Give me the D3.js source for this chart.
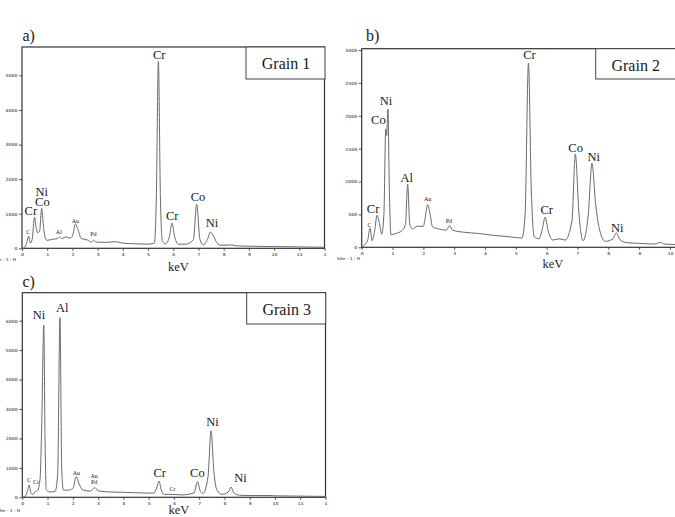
<!DOCTYPE html>
<html>
<head>
<meta charset="utf-8">
<title>EDS spectra - Grain 1, 2, 3</title>
<script src="https://d3js.org/d3.v7.min.js"></script>
<style>
  body { margin: 0; background: #fff; }
  svg { display: block; background: #fff; }
  .lbl { font-family: "Liberation Serif", "Times New Roman", serif; fill: #1a1a1a; }
  .tick text { font-family: "DejaVu Sans", sans-serif; font-weight: bold; fill: #777; }
  .tick line { stroke: #555; }
</style>
</head>
<body>
<div id="chart"></div>
<script>
// spectra, [keV, counts]
var grain1 = [[0,0],[0.1,20],[0.18,150],[0.27,350],[0.33,150],[0.4,250],[0.5,900],[0.56,600],[0.62,450],[0.7,500],
  [0.78,1150],[0.85,650],[0.92,300],[1.0,230],[1.2,260],[1.4,280],[1.49,330],[1.58,280],[1.75,330],[1.9,290],
  [2.0,350],[2.12,700],[2.22,550],[2.35,280],[2.6,240],[2.75,180],[2.84,230],[2.95,180],[3.3,170],[3.7,190],
  [4.0,150],[4.5,130],[5.0,120],[5.25,150],[5.33,1500],[5.41,5400],[5.49,1500],[5.57,200],[5.7,130],[5.85,350],
  [5.95,730],[6.05,350],[6.2,120],[6.5,120],[6.8,250],[6.93,1270],[7.06,250],[7.2,100],[7.38,300],[7.47,470],
  [7.6,350],[7.7,200],[7.85,90],[8.2,90],[8.3,100],[8.5,70],[9,60],[10,50],[11,40],[12,30]];

var grain2 = [[0,0],[0.1,40],[0.2,120],[0.27,290],[0.34,100],[0.42,250],[0.5,490],[0.57,380],[0.65,200],[0.72,500],
  [0.78,1800],[0.81,1700],[0.85,2100],[0.9,800],[0.95,190],[1.1,210],[1.3,250],[1.42,350],[1.49,960],[1.56,350],
  [1.65,280],[1.8,320],[2.0,320],[2.06,450],[2.14,650],[2.22,500],[2.3,310],[2.5,280],[2.75,260],[2.85,330],
  [2.95,260],[3.3,230],[3.8,210],[4.3,180],[4.8,160],[5.2,140],[5.3,500],[5.41,2800],[5.5,900],[5.6,160],
  [5.75,130],[5.87,300],[5.95,460],[6.05,250],[6.2,110],[6.4,130],[6.6,110],[6.82,400],[6.93,1420],[7.05,500],
  [7.18,100],[7.35,500],[7.47,1280],[7.58,700],[7.7,300],[7.9,90],[8.15,130],[8.26,220],[8.37,120],[8.6,70],
  [9,60],[9.5,50],[9.7,75],[9.8,50],[10.4,40]];

var grain3 = [[0,0],[0.1,30],[0.2,200],[0.27,420],[0.34,150],[0.42,100],[0.52,200],[0.6,220],[0.7,600],[0.77,2500],
  [0.85,5850],[0.9,2000],[0.95,250],[1.1,180],[1.3,200],[1.4,800],[1.49,6100],[1.56,1000],[1.62,250],[1.8,240],
  [2.0,300],[2.14,700],[2.25,450],[2.4,250],[2.7,210],[2.87,330],[3.0,220],[3.5,180],[4.0,170],[4.6,150],
  [5.2,140],[5.33,350],[5.41,550],[5.5,250],[5.62,100],[5.95,100],[6.3,80],[6.8,150],[6.93,530],[7.05,200],
  [7.15,130],[7.35,700],[7.47,2260],[7.58,900],[7.7,250],[7.9,100],[8.15,180],[8.26,350],[8.37,150],[8.6,70],
  [9,60],[9.8,60],[10,50],[11,40],[12,30]];

// peak labels [text, keV, counts]
var peaks1 = [["Cr",5.44,5485],["Ni",0.78,1503],["Co",0.81,1223],["Cr",0.35,954],["Cr",5.96,818],["Co",6.98,1376],["Ni",7.54,607]];
var minor1 = [["C",0.25,422],["Al",1.46,422],["Au",2.12,740],["Pd",2.83,364]];
var peaks2 = [["Cr",5.44,2858],["Ni",0.79,2164],["Co",0.54,1870],["Al",1.46,998],["Cr",0.37,526],["Cr",6.0,502],["Co",6.94,1454],["Ni",7.53,1317],["Ni",8.29,237]];
var minor2 = [["C",0.25,313],["Au",2.14,704],["Pd",2.83,365]];
var peaks3 = [["Ni",0.66,6048],["Al",1.58,6306],["Cr",5.44,700],["Co",6.93,700],["Ni",7.53,2423],["Ni",8.64,510]];
var minor3 = [["C",0.27,510],["Cr",0.54,452],["Au",2.14,758],["Au",2.84,646],["Pd",2.84,452],["Cr",5.94,214]];

var yTicks1 = [0,1000,2000,3000,4000,5000];
var yTicks2 = [0,500,1000,1500,2000,2500,3000];
var yTicks3 = [0,1000,2000,3000,4000,5000,6000];
var xTicks1 = [0,1,2,3,4,5,6,7,8,9,10,11,12];
var xTicks2 = [0,1,2,3,4,5,6,7,8,9,10];
var xTickLabels1 = ["0","1","2","3","4","5","6","7","8","9","10","11","1"];
var xTickLabels2 = ["0","1","2","3","4","5","6","7","8","9","10"];

var panels = [
  {tag:"a)", name:"Grain 1", data:grain1, peaks:peaks1, minor:minor1, yTicks:yTicks1, xTicks:xTicks1, xLabels:xTickLabels1,
   xMax:12, yMax:5820, left:22, right:324.5, top:47, bottom:248.3, box:[246,47,325,79], tagX:22.5, tagY:41, keVY:271, footX:-7, footY:261},
  {tag:"b)", name:"Grain 2", data:grain2, peaks:peaks2, minor:minor2, yTicks:yTicks2, xTicks:xTicks2, xLabels:xTickLabels2,
   xMax:10.41, yMax:3020, left:361.7, right:682.6, top:48.7, bottom:247.3, box:[595.7,48.7,690,79], tagX:366, tagY:41, keVY:268, footX:337, footY:260},
  {tag:"c)", name:"Grain 3", data:grain3, peaks:peaks3, minor:minor3, yTicks:yTicks3, xTicks:xTicks1, xLabels:xTickLabels1,
   xMax:12, yMax:6950, left:22.3, right:325.5, top:292.7, bottom:497.3, box:[246.7,292.7,325.7,324], tagX:22.5, tagY:287, keVY:514, footX:-3, footY:512}
];

var svg = d3.select("#chart").append("svg")
  .attr("width", 675)
  .attr("height", 517);

panels.forEach(function(p) {
  var x = d3.scaleLinear().domain([0, p.xMax]).range([p.left, p.right]);
  var y = d3.scaleLinear().domain([0, p.yMax]).range([p.bottom, p.top]);
  var g = svg.append("g");

  // axes
  var ya = g.append("g").attr("transform", "translate(" + p.left + ",0)")
    .call(d3.axisLeft(y).tickValues(p.yTicks).tickSize(3).tickPadding(1.5).tickSizeOuter(0)
      .tickFormat(d3.format("d")));
  ya.select(".domain").remove();
  ya.selectAll("text").style("font-size", "4.3px");

  var xa = g.append("g").attr("transform", "translate(0," + p.bottom + ")")
    .call(d3.axisBottom(x).tickValues(p.xTicks).tickSize(2.5).tickPadding(2)
      .tickFormat(function(d, i) { return p.xLabels[i]; }));
  xa.select(".domain").remove();
  xa.selectAll("text").style("font-size", "4.3px");

  // frame
  g.append("rect")
    .attr("x", p.left).attr("y", p.top)
    .attr("width", p.right - p.left).attr("height", p.bottom - p.top)
    .attr("fill", "none").attr("stroke", "#333").attr("stroke-width", 1.2);

  // spectrum
  var line = d3.line()
    .x(function(d) { return x(d[0]); })
    .y(function(d) { return y(d[1]); })
    .curve(d3.curveMonotoneX);
  g.append("path").datum(p.data)
    .attr("d", line)
    .attr("fill", "none")
    .attr("stroke", "#6a6a6a")
    .attr("stroke-width", 1);

  // grain box
  g.append("rect")
    .attr("x", p.box[0]).attr("y", p.box[1])
    .attr("width", p.box[2] - p.box[0]).attr("height", p.box[3] - p.box[1])
    .attr("fill", "#fff").attr("stroke", "#444").attr("stroke-width", 1);
  g.append("text").attr("class", "lbl")
    .attr("x", p.box[0] + 40).attr("y", p.box[1] + 22)
    .attr("text-anchor", "middle")
    .style("font-size", "16px")
    .text(p.name);

  // peak labels
  g.selectAll(".pk").data(p.peaks).enter().append("text")
    .attr("class", "lbl pk")
    .attr("x", function(d) { return x(d[1]); })
    .attr("y", function(d) { return y(d[2]); })
    .attr("text-anchor", "middle")
    .style("font-size", "12.5px")
    .text(function(d) { return d[0]; });

  g.selectAll(".mn").data(p.minor).enter().append("text")
    .attr("class", "lbl mn")
    .attr("x", function(d) { return x(d[1]); })
    .attr("y", function(d) { return y(d[2]); })
    .attr("text-anchor", "middle")
    .style("font-size", "6px")
    .text(function(d) { return d[0]; });

  // panel letter, axis title, instrument tag
  g.append("text").attr("class", "lbl")
    .attr("x", p.tagX).attr("y", p.tagY)
    .style("font-size", "16px")
    .text(p.tag);
  g.append("text").attr("class", "lbl")
    .attr("x", x(6.2)).attr("y", p.keVY)
    .attr("text-anchor", "middle")
    .style("font-size", "12.5px")
    .text("keV");
  g.append("text")
    .attr("x", p.footX).attr("y", p.footY)
    .style("font-family", "DejaVu Sans, sans-serif")
    .style("font-weight", "bold")
    .style("font-size", "4px")
    .style("fill", "#777")
    .text("klm - 1 - H");
});
</script>
</body>
</html>
